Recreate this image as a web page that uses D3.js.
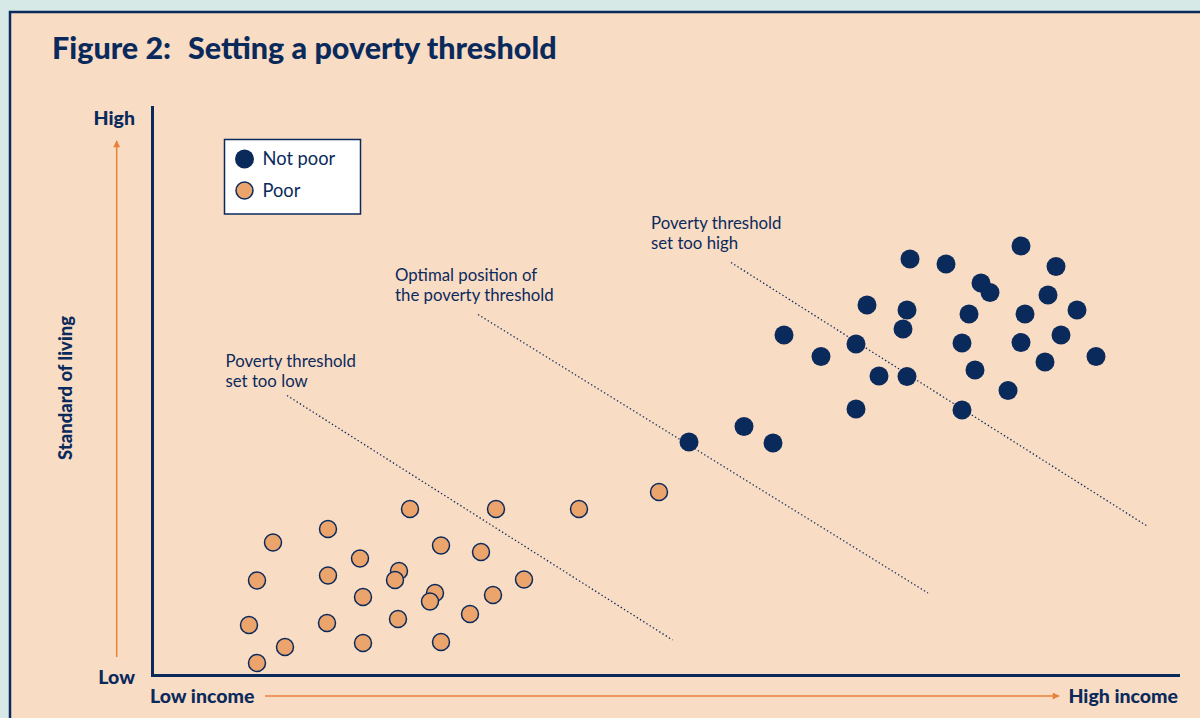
<!DOCTYPE html>
<html>
<head>
<meta charset="utf-8">
<script src="https://cdn.jsdelivr.net/npm/d3@7"></script>
<style>
  body { margin: 0; background: #d7e9e7; }
  svg { display: block; font-family: Lato, "Open Sans", sans-serif; }
</style>
</head>
<body>
<div id="chart"></div>
<script>
// Income (0-100) and standard of living (0-110)
const poorIncome = [50.7, 42.7, 34.4, 25.8, 17.6, 12.1, 28.9, 32.9, 20.8, 24.7, 24.3, 17.6, 10.5,
    37.2, 28.3, 27.8, 21.1, 34.1, 31.8, 24.6, 17.5, 9.7, 13.3, 21.1, 28.9, 10.5];
const poorLiving = [36.6, 33.2, 33.2, 33.2, 29.2, 26.5, 25.9, 24.6, 23.3, 20.8, 19.0, 19.9, 18.9,
    19.1, 16.4, 14.7, 15.6, 16.0, 12.2, 11.2, 10.4, 10.0, 5.6, 6.4, 6.6, 2.4];

const notPoorIncome = [75.8, 79.4, 86.9, 90.4, 82.9, 83.8, 89.6, 71.5, 75.5, 81.7, 87.3, 92.5, 63.2,
    75.1, 70.4, 81.0, 86.9, 90.9, 66.9, 94.4, 72.7, 75.5, 82.3, 89.3, 85.6, 70.4, 81.0, 53.7, 59.2, 62.1];
const notPoorLiving = [83.2, 82.2, 85.8, 81.7, 78.4, 76.5, 76.0, 74.0, 73.0, 72.2, 72.2, 73.0, 68.0,
    69.2, 66.2, 66.4, 66.5, 68.0, 63.7, 63.7, 59.8, 59.7, 61.0, 62.6, 56.9, 53.2, 53.0, 46.6, 49.7, 46.4];

// threshold lines: start and end, in the same units
const thresholdNames = [
    ['Poverty threshold', 'set too low'],
    ['Optimal position of', 'the poverty threshold'],
    ['Poverty threshold', 'set too high']
];
const thresholdStart = [[13.5, 55.9], [32.6, 72.1], [57.9, 82.5]];
const thresholdEnd = [[52.05, 7.0], [77.6, 16.4], [99.5, 29.8]];
const thresholdLabelAt = [[7.35, 61.6], [24.3, 78.8], [49.9, 89.2]];

const legendNames = ['Not poor', 'Poor'];
const axisEnds = { x: ['Low income', 'High income'], y: ['Low', 'High'] };

const navy = '#0b2a5c';
const peach = '#f9dcc4';
const poorFill = '#eca46d';
const arrowColor = '#e8823a';

const outerWidth = 1200;
const outerHeight = 718;

const svg = d3.select('#chart').append('svg')
    .attr('width', outerWidth)
    .attr('height', outerHeight);

// Panel
svg.append('rect')
    .attr('x', 10).attr('y', 12)
    .attr('width', outerWidth + 20).attr('height', outerHeight + 20)
    .attr('fill', peach)
    .attr('stroke', navy)
    .attr('stroke-width', 2.5);

svg.append('text')
    .attr('x', 52).attr('y', 59)
    .attr('fill', navy)
    .attr('font-size', 30.5)
    .attr('font-weight', 900)
    .text('Figure 2:');
svg.append('text')
    .attr('x', 188).attr('y', 59)
    .attr('fill', navy)
    .attr('font-size', 30.5)
    .attr('font-weight', 900)
    .text('Setting a poverty threshold');

// Scales
const x = d3.scaleLinear().domain([0, 102.6]).range([152, 1178]);
const y = d3.scaleLinear().domain([0, 113.6]).range([675, 107]);

// Axis lines only, no ticks
const gx = svg.append('g')
    .attr('transform', `translate(0, ${y(0)})`)
    .call(d3.axisBottom(x).tickValues([]).tickSizeOuter(0));
const gy = svg.append('g')
    .attr('transform', `translate(${x(0)}, 0)`)
    .call(d3.axisLeft(y).tickValues([]).tickSizeOuter(0));
svg.selectAll('.domain')
    .attr('stroke', navy)
    .attr('stroke-width', 3)
    .attr('stroke-linecap', 'square');

// Arrow markers
const defs = svg.append('defs');
defs.append('marker')
    .attr('id', 'arrow')
    .attr('viewBox', '0 0 10 10')
    .attr('refX', 9).attr('refY', 5)
    .attr('markerWidth', 10).attr('markerHeight', 7)
    .attr('markerUnits', 'userSpaceOnUse')
    .attr('orient', 'auto')
    .append('path')
    .attr('d', 'M0,0 L10,5 L0,10 Z')
    .attr('fill', arrowColor);

const labelSize = 19.5;

// Y direction arrow + labels
svg.append('line')
    .attr('x1', 116.7).attr('x2', 116.7)
    .attr('y1', 657).attr('y2', 141)
    .attr('stroke', arrowColor)
    .attr('stroke-width', 1.5)
    .attr('marker-end', 'url(#arrow)');
svg.append('text')
    .attr('x', 135).attr('y', 684)
    .attr('text-anchor', 'end')
    .attr('fill', navy).attr('font-size', labelSize).attr('font-weight', 900)
    .text(axisEnds.y[0]);
svg.append('text')
    .attr('x', 135).attr('y', 125)
    .attr('text-anchor', 'end')
    .attr('fill', navy).attr('font-size', labelSize).attr('font-weight', 900)
    .text(axisEnds.y[1]);
svg.append('text')
    .attr('transform', 'translate(72, 388) rotate(-90)')
    .attr('text-anchor', 'middle')
    .attr('fill', navy).attr('font-size', 18.5).attr('font-weight', 900)
    .text('Standard of living');

// X direction arrow + labels
svg.append('line')
    .attr('x1', 265).attr('x2', 1059)
    .attr('y1', 696).attr('y2', 696)
    .attr('stroke', arrowColor)
    .attr('stroke-width', 1.5)
    .attr('marker-end', 'url(#arrow)');
svg.append('text')
    .attr('x', 150).attr('y', 703)
    .attr('fill', navy).attr('font-size', labelSize).attr('font-weight', 900)
    .text(axisEnds.x[0]);
svg.append('text')
    .attr('x', 1178).attr('y', 703)
    .attr('text-anchor', 'end')
    .attr('fill', navy).attr('font-size', labelSize).attr('font-weight', 900)
    .text(axisEnds.x[1]);

// Threshold lines
const thresholds = thresholdNames.map((lines, i) => ({
    lines: lines, start: thresholdStart[i], end: thresholdEnd[i], label: thresholdLabelAt[i]
}));

svg.append('g').selectAll('line')
    .data(thresholds)
    .join('line')
    .attr('x1', d => x(d.start[0])).attr('y1', d => y(d.start[1]))
    .attr('x2', d => x(d.end[0])).attr('y2', d => y(d.end[1]))
    .attr('stroke', navy)
    .attr('stroke-width', 1.3)
    .attr('stroke-dasharray', '1.4 2.4');

// one text per line so the two lines never share a box
svg.append('g').selectAll('text')
    .data(thresholds.flatMap(d => d.lines.map((l, i) => ({ text: l, i: i, at: d.label }))))
    .join('text')
    .attr('x', d => x(d.at[0]))
    .attr('y', d => y(d.at[1]) + d.i * 19.5)
    .attr('fill', navy)
    .attr('font-size', 16.8)
    .text(d => d.text);

// Points
const poor = poorIncome.map((v, i) => [v, poorLiving[i]]);
const notPoor = notPoorIncome.map((v, i) => [v, notPoorLiving[i]]);

svg.append('g').selectAll('circle')
    .data(poor)
    .join('circle')
    .attr('cx', d => x(d[0]))
    .attr('cy', d => y(d[1]))
    .attr('r', 8.5)
    .attr('fill', poorFill)
    .attr('stroke', navy)
    .attr('stroke-width', 1.5);

svg.append('g').selectAll('circle')
    .data(notPoor)
    .join('circle')
    .attr('cx', d => x(d[0]))
    .attr('cy', d => y(d[1]))
    .attr('r', 9.5)
    .attr('fill', navy);

// Legend
const legend = svg.append('g').attr('transform', 'translate(224.5, 139.5)');
legend.append('rect')
    .attr('width', 136).attr('height', 74.5)
    .attr('fill', '#ffffff')
    .attr('stroke', navy)
    .attr('stroke-width', 1.5);
legendNames.forEach((name, i) => {
    const row = legend.append('g').attr('transform', `translate(20, ${19.5 + i * 31.5})`);
    row.append('circle')
        .attr('r', i === 0 ? 9.5 : 8.5)
        .attr('fill', i === 0 ? navy : poorFill)
        .attr('stroke', i === 0 ? 'none' : navy)
        .attr('stroke-width', 1.5);
    row.append('text')
        .attr('x', 18).attr('y', 6)
        .attr('fill', navy)
        .attr('font-size', 18.3)
        .text(name);
});
</script>
</body>
</html>
